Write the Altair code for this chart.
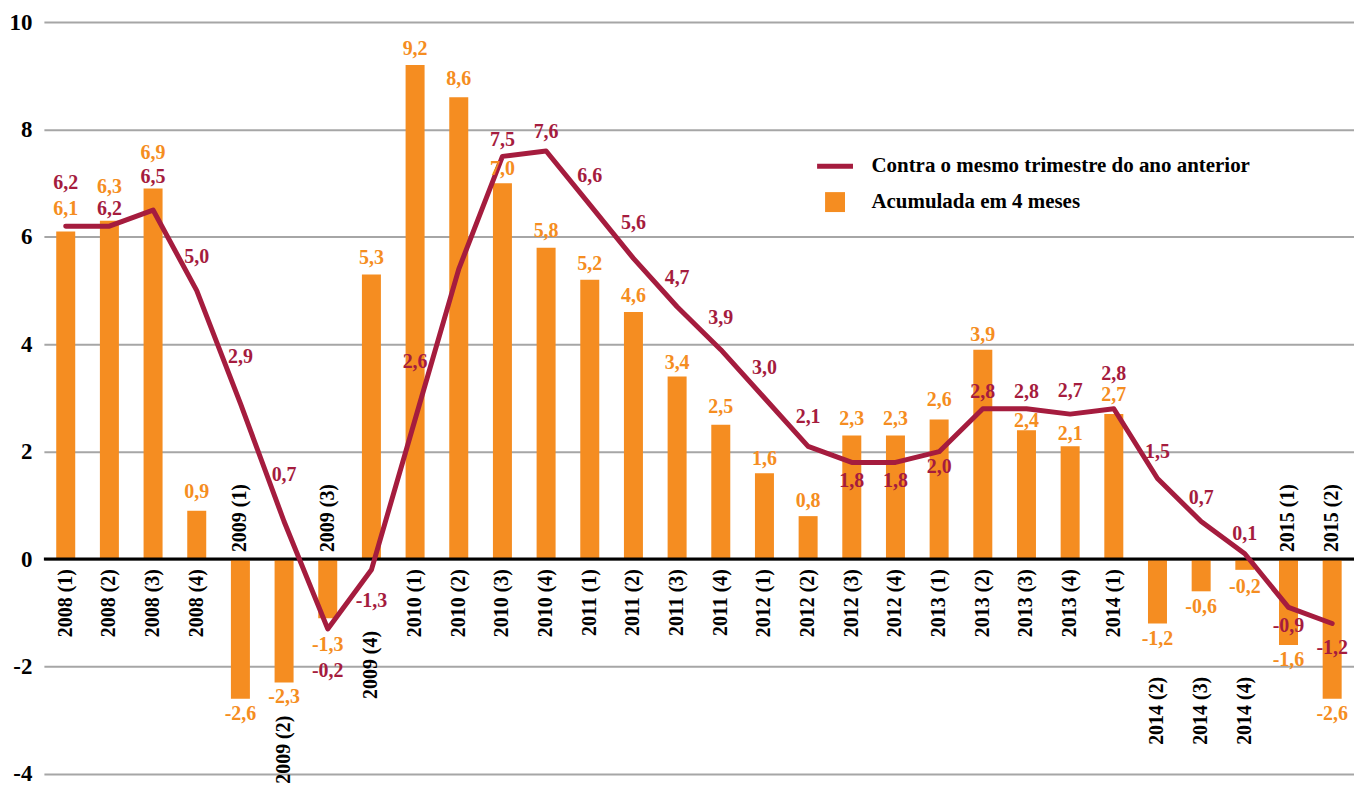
import altair as alt
import pandas as pd

# ---------------- data ----------------
cats = ["2008 (1)", "2008 (2)", "2008 (3)", "2008 (4)",
        "2009 (1)", "2009 (2)", "2009 (3)", "2009 (4)",
        "2010 (1)", "2010 (2)", "2010 (3)", "2010 (4)",
        "2011 (1)", "2011 (2)", "2011 (3)", "2011 (4)",
        "2012 (1)", "2012 (2)", "2012 (3)", "2012 (4)",
        "2013 (1)", "2013 (2)", "2013 (3)", "2013 (4)",
        "2014 (1)", "2014 (2)", "2014 (3)", "2014 (4)",
        "2015 (1)", "2015 (2)"]

# Acumulada em 4 meses (bars)
acum = [6.1, 6.3, 6.9, 0.9, -2.6, -2.3, -1.1, 5.3, 9.2, 8.6, 7.0, 5.8,
        5.2, 4.6, 3.4, 2.5, 1.6, 0.8, 2.3, 2.3, 2.6, 3.9, 2.4, 2.1,
        2.7, -1.2, -0.6, -0.2, -1.6, -2.6]
acum_text = ["6,1", "6,3", "6,9", "0,9", "-2,6", "-2,3", "-1,3", "5,3", "9,2", "8,6",
             "7,0", "5,8", "5,2", "4,6", "3,4", "2,5", "1,6", "0,8", "2,3", "2,3",
             "2,6", "3,9", "2,4", "2,1", "2,7", "-1,2", "-0,6", "-0,2", "-1,6", "-2,6"]

# Contra o mesmo trimestre do ano anterior (line)
contra = [6.2, 6.2, 6.5, 5.0, 2.9, 0.7, -1.3, -0.2, 2.6, 5.4, 7.5, 7.6,
          6.6, 5.6, 4.7, 3.9, 3.0, 2.1, 1.8, 1.8, 2.0, 2.8, 2.8, 2.7,
          2.8, 1.5, 0.7, 0.1, -0.9, -1.2]
contra_text = ["6,2", "6,2", "6,5", "5,0", "2,9", "0,7", "-0,2", "-1,3", "2,6", "",
               "7,5", "7,6", "6,6", "5,6", "4,7", "3,9", "3,0", "2,1", "1,8", "1,8",
               "2,0", "2,8", "2,8", "2,7", "2,8", "1,5", "0,7", "0,1", "-0,9", "-1,2"]

SER_BAR = "Acumulada em 4 meses"
SER_LINE = "Contra o mesmo trimestre do ano anterior"

# ---------------- label layout (pixel offsets, up = positive) ----------------
bar_lab_off = [23, 34, 36, 19, -15, -14, -27, 17, 16, 18, 14, 17, 16, 16, 14, 18,
               14, 15, 17, 17, 20, 15, 9, 12, 19, -16, -16, -17, -15, -15]
line_lab_off = [43, 17, 33, 34, 46, 47, -42, -31, 58, 0, 16, 19, 29, 35, 29, 32,
                30, 29, -19, -19, -15, 17, 17, 23, 35, 27, 24, 20, -19, -25]
cat_lab_off = [-10, -10, -10, -10, 7, -157, 7, -72, -10, -10, -10, -10, -10, -10,
               -10, -10, -10, -10, -10, -10, -10, -10, -10, -10, -10, -118, -118,
               -118, 7, 7]

ORANGE = "#F58D21"
RED = "#A51C3E"
GRID = "#A6A6A6"
FONT = "Liberation Serif"

W, H = 1314, 754
YMIN, YMAX = -4, 10
PPU = H / (YMAX - YMIN)

df = pd.DataFrame({
    "cat": cats, "acum": acum, "contra": contra,
    "acum_text": acum_text, "contra_text": contra_text,
})
df["bar_lab_y"] = [v + o / PPU for v, o in zip(acum, bar_lab_off)]
df["line_lab_y"] = [v + o / PPU for v, o in zip(contra, line_lab_off)]
df["cat_y"] = [o / PPU for o in cat_lab_off]
df["cat_above"] = [o > 0 for o in cat_lab_off]
df["s_bar"] = SER_BAR
df["s_line"] = SER_LINE

yscale = alt.Scale(domain=[YMIN, YMAX], nice=False, zero=False)
x = alt.X("cat:N", sort=cats, axis=None,
          scale=alt.Scale(paddingInner=0.565, paddingOuter=0.2825))

base = alt.Chart(df)

legend_common = dict(title=None, orient="none", labelFont=FONT, labelFontSize=21,
                     labelFontWeight="bold", labelColor="black", labelLimit=0,
                     padding=0)

bars = base.mark_bar().encode(
    x=x,
    y=alt.Y("acum:Q", scale=yscale, title=None,
            axis=alt.Axis(values=[-4, -2, 0, 2, 4, 6, 8, 10],
                          labelExpr="'' + datum.value",
                          grid=True, gridColor=GRID, gridWidth=2,
                          domain=False, ticks=False, labelPadding=12,
                          labelFont=FONT, labelFontSize=23,
                          labelFontWeight="bold", labelColor="black")),
    y2=alt.datum(0),
    fill=alt.Fill("s_bar:N",
                  scale=alt.Scale(domain=[SER_BAR], range=[ORANGE]),
                  legend=alt.Legend(legendX=783, legendY=170,
                                    symbolType="square", symbolSize=400,
                                    symbolStrokeWidth=0, labelOffset=26,
                                    **legend_common)),
)

zero = alt.Chart(pd.DataFrame({"z": [0]})).mark_rule(
    color="black", strokeWidth=3).encode(y=alt.Y("z:Q", scale=yscale))

line = base.mark_line(strokeWidth=5, strokeJoin="round", strokeCap="round").encode(
    x=x,
    y=alt.Y("contra:Q", scale=yscale),
    stroke=alt.Stroke("s_line:N",
                      scale=alt.Scale(domain=[SER_LINE], range=[RED]),
                      legend=alt.Legend(legendX=773, legendY=124,
                                        symbolType="stroke", symbolSize=1296,
                                        symbolStrokeWidth=5, labelOffset=16,
                                        **legend_common)),
)

txt = dict(font=FONT, fontSize=20, fontWeight="bold", baseline="middle")

bar_labels = base.mark_text(color=ORANGE, align="center", **txt).encode(
    x=x, y=alt.Y("bar_lab_y:Q", scale=yscale), text="acum_text:N")

line_labels = base.mark_text(color=RED, align="center", **txt).encode(
    x=x, y=alt.Y("line_lab_y:Q", scale=yscale), text="contra_text:N")

cat_below = base.transform_filter("!datum.cat_above").mark_text(
    color="black", angle=270, align="right", **txt).encode(
    x=x, y=alt.Y("cat_y:Q", scale=yscale), text="cat:N")

cat_above = base.transform_filter("datum.cat_above").mark_text(
    color="black", angle=270, align="left", **txt).encode(
    x=x, y=alt.Y("cat_y:Q", scale=yscale), text="cat:N")

chart = alt.layer(
    bars, zero, line, cat_below, cat_above, bar_labels, line_labels
).properties(
    width=W, height=H,
    autosize=alt.AutoSizeParams(type="none"),
    padding={"left": 36, "top": 13, "right": 0, "bottom": 14},
).configure_view(stroke=None)

chart.save("out.html", embed_options={"renderer": "svg", "actions": False})
